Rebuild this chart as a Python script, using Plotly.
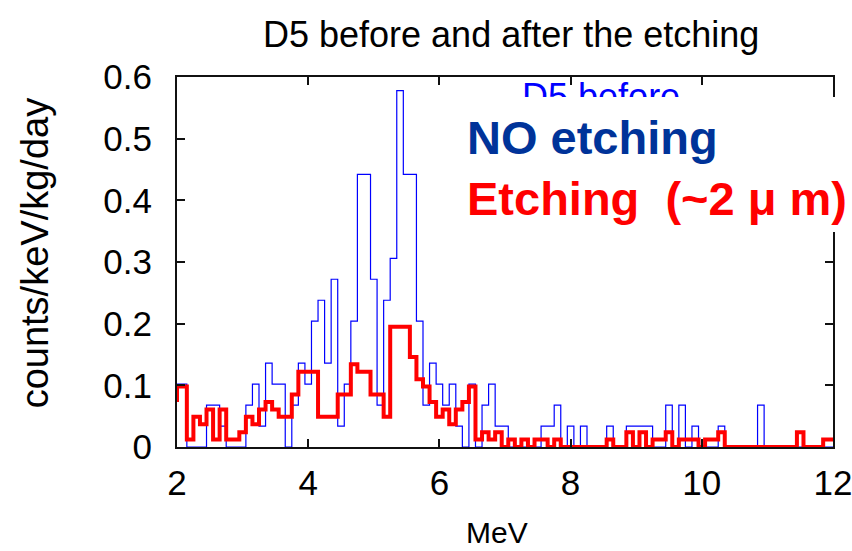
import plotly.graph_objects as go

# Bin centres (MeV), 0.1 MeV wide bins
energy = [round(2.0 + 0.1 * i, 1) for i in range(101)]

# D5 spectrum before the etching (counts/keV/kg/day)
before = [0.102, 0.102, 0, 0, 0, 0.068, 0.068, 0.034, 0, 0,
          0, 0.068, 0.102, 0.034, 0.136, 0.102, 0.102, 0, 0.068, 0.136,
          0.102, 0.204, 0.238, 0.136, 0.272, 0.034, 0.102, 0.204, 0.442, 0.442,
          0.272, 0.068, 0.238, 0.306, 0.578, 0.442, 0.442, 0.204, 0.068, 0.136,
          0.102, 0.068, 0.102, 0.034, 0, 0.102, 0, 0.068, 0.102, 0.034,
          0.034, 0, 0, 0, 0, 0, 0.034, 0.034, 0.068, 0,
          0.034, 0, 0.034, 0, 0, 0, 0.034, 0, 0, 0.034,
          0.034, 0.034, 0.034, 0, 0, 0.068, 0, 0.068, 0, 0.034,
          0, 0, 0, 0.034, 0, 0, 0, 0, 0, 0.068,
          0, 0, 0, 0, 0, 0, 0, 0, 0, 0, 0]

# D5 spectrum after the etching; the first entry is the bin just below 2 MeV
after_energy = [1.9] + energy
after = [0.073,
         0.098, 0.098, 0.012, 0.049, 0.037, 0.061, 0.012, 0.061, 0.012, 0.012,
         0.024, 0.049, 0.037, 0.061, 0.073, 0.061, 0.049, 0.049, 0.085, 0.122,
         0.122, 0.122, 0.049, 0.049, 0.049, 0.085, 0.085, 0.134, 0.122, 0.122,
         0.085, 0.085, 0.049, 0.195, 0.195, 0.195, 0.146, 0.110, 0.098, 0.073,
         0.049, 0.061, 0.037, 0.061, 0.073, 0.098, 0.012, 0.024, 0.012, 0.024,
         0, 0.012, 0, 0.012, 0, 0.012, 0.012, 0, 0.012, 0,
         0, 0, 0, 0, 0, 0, 0.012, 0, 0, 0.024,
         0, 0.024, 0, 0.012, 0.012, 0.024, 0, 0.012, 0.012, 0.012,
         0, 0.012, 0.012, 0.024, 0, 0, 0, 0, 0, 0,
         0, 0, 0, 0, 0, 0.024, 0, 0, 0, 0.012, 0.012]

x_ticks = [2, 4, 6, 8, 10, 12]
x_ticktext = ["2", "4", "6", "8", "10", "12"]
y_ticks = [0, 0.1, 0.2, 0.3, 0.4, 0.5, 0.6]
y_ticktext = ["0", "0.1", "0.2", "0.3", "0.4", "0.5", "0.6"]

X_MIN, X_MAX = 2.0, 12.0
BIN = 0.1


def step_outline(centres, values, lo, hi, width):
    """Histogram outline: each bin becomes a flat segment clipped to [lo, hi]."""
    xs, ys = [], []
    for c, v in zip(centres, values):
        a = min(max(c - width / 2, lo), hi)
        b = min(max(c + width / 2, lo), hi)
        xs += [a, b]
        ys += [v, v]
    return xs, ys


FONT = "Liberation Sans, Arial, Helvetica, sans-serif"

bx, by = step_outline(energy, before, X_MIN, X_MAX, BIN)
ax_, ay_ = step_outline(after_energy, after, X_MIN, X_MAX, BIN)

fig = go.Figure()
fig.add_trace(go.Scatter(x=bx, y=by, mode="lines",
                         line=dict(color="#0000ff", width=1.2),
                         hoverinfo="skip", showlegend=False))
fig.add_trace(go.Scatter(x=ax_, y=ay_, mode="lines",
                         line=dict(color="#ff0000", width=4),
                         hoverinfo="skip", showlegend=False))
# legend entry of the original histogram, partly hidden by the label box
fig.add_trace(go.Scatter(x=[7.26], y=[0.562], mode="text", text=["D5 before"],
                         textposition="middle right",
                         textfont=dict(family=FONT, size=36, color="#0000ff"),
                         hoverinfo="skip", showlegend=False))

axis_common = dict(
    showline=True, linewidth=2, linecolor="#111111", mirror="ticks",
    ticks="inside", ticklen=8, tickwidth=1.5, tickcolor="#111111",
    showgrid=False, zeroline=False, ticklabeloverflow="allow",
    automargin=False,
    tickfont=dict(family=FONT, size=35, color="black"),
)

fig.update_layout(
    width=852, height=551,
    margin=dict(l=177, r=19, t=77, b=104),
    paper_bgcolor="white", plot_bgcolor="white",
    showlegend=False,
    xaxis=dict(range=[X_MIN, X_MAX], tickvals=x_ticks, ticktext=x_ticktext,
               ticklabelstandoff=4, **axis_common),
    yaxis=dict(range=[0, 0.6], tickvals=y_ticks, ticktext=y_ticktext,
               ticklabelstandoff=16, **axis_common),
    shapes=[dict(type="rect", xref="paper", yref="paper",
                 x0=0.428, x1=1.04, y0=0.581, y1=0.946,
                 fillcolor="white", line=dict(width=0), layer="above")],
    annotations=[
        dict(text="D5 before and after the etching", xref="paper", yref="paper",
             x=0.509, y=1.115, xanchor="center", yanchor="middle", showarrow=False,
             font=dict(family=FONT, size=36, color="black")),
        dict(text="counts/keV/kg/day", xref="paper", yref="paper",
             x=-0.2165, y=0.526, xanchor="center", yanchor="middle",
             textangle=-90, showarrow=False,
             font=dict(family=FONT, size=38, color="black")),
        dict(text="MeV", xref="paper", yref="paper",
             x=0.488, y=-0.232, xanchor="center", yanchor="middle", showarrow=False,
             font=dict(family=FONT, size=30, color="black")),
        dict(text="<b>NO etching</b>", xref="paper", yref="paper",
             x=0.439, y=0.8365, xanchor="left", yanchor="middle", showarrow=False,
             font=dict(family=FONT, size=47, color="#003399")),
        dict(text="<b>Etching  (~2 \u03bc m)</b>", xref="paper", yref="paper",
             x=0.439, y=0.6716, xanchor="left", yanchor="middle", showarrow=False,
             font=dict(family=FONT, size=47, color="#ff0000")),
    ],
)

fig.write_html("out.html")
